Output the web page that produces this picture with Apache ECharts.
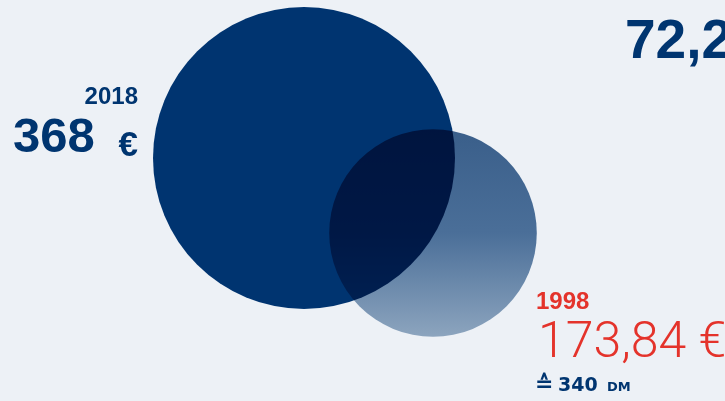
<!DOCTYPE html>
<html>
<head>
<meta charset="utf-8">
<script src="https://cdn.jsdelivr.net/npm/echarts@6/dist/echarts.min.js"></script>
<style>
  html, body { margin: 0; padding: 0; background: #edf1f6; }
  #chart { width: 725px; height: 401px; }
</style>
</head>
<body>
<div id="chart"></div>
<script>
// data
const years = ["2018", "1998"];
const euroValues = [368, 173.84];
const euroLabels = ["368", "173,84"];
const dmLabel = "340";
const headline = "72,28";

// layout (pixel space of the 725x401 canvas)
const centers = [[304, 158], [433, 233]];
const sizeScale = 302 / Math.sqrt(368); // diameter per sqrt(euro), area proportional

const navy = "#003570";
const red = "#e4332b";
const font = "'Liberation Sans', Arial, sans-serif";
const wide = "'DejaVu Sans', sans-serif";

const chart = echarts.init(document.getElementById("chart"));

const points = euroValues.map((v, i) => ({
  value: [centers[i][0], centers[i][1], v],
  itemStyle: i === 0
    ? { color: "#003774", opacity: 1 }
    : {
        opacity: 1,
        color: {
          type: "linear", x: 0, y: 0, x2: 0, y2: 1,
          colorStops: [
            { offset: 0, color: "#3e648f" },
            { offset: 0.5, color: "#50759e" },
            { offset: 1, color: "#97aec5" },
          ],
        },
      },
}));

const txt = (text, x, y, size, color, opts) => ({
  type: "text",
  silent: true,
  style: {
    text: text, x: x, y: y,
    fill: color,
    font: (opts && opts.weight || "bold") + " " + size + "px " + (opts && opts.family || font),
    textAlign: (opts && opts.align) || "left",
    textVerticalAlign: "middle",
  },
});

const options = {
  backgroundColor: "#edf1f6",
  animation: false,
  grid: { left: 0, right: 0, top: 0, bottom: 0 },
  xAxis: { type: "value", min: 0, max: 725, show: false },
  yAxis: { type: "value", min: 0, max: 401, inverse: true, show: false },
  series: [
    {
      type: "scatter",
      blendMode: "multiply",
      silent: true,
      symbol: "circle",
      symbolSize: (d) => sizeScale * Math.sqrt(d[2]),
      emphasis: { disabled: true },
      data: points,
    },
  ],
  graphic: [
    txt(years[0], 138, 97, 24, navy, { align: "right" }),
    txt(euroLabels[0], 13, 138, 49, navy),
    txt("€", 138, 146, 35, navy, { align: "right" }),
    txt(headline, 625, 43, 55, navy),
    txt(years[1], 536, 302, 24, red),
    txt(euroLabels[1] + " €", 538, 344, 50, red, { weight: "300", family: "Roboto, 'Liberation Sans', sans-serif" }),
    txt("≙", 535, 385, 22, navy, { family: wide }),
    txt(dmLabel, 558, 386, 19, navy, { family: wide }),
    txt("DM", 607, 388, 13, navy, { family: wide }),
  ],
};

chart.setOption(options);
</script>
</body>
</html>
